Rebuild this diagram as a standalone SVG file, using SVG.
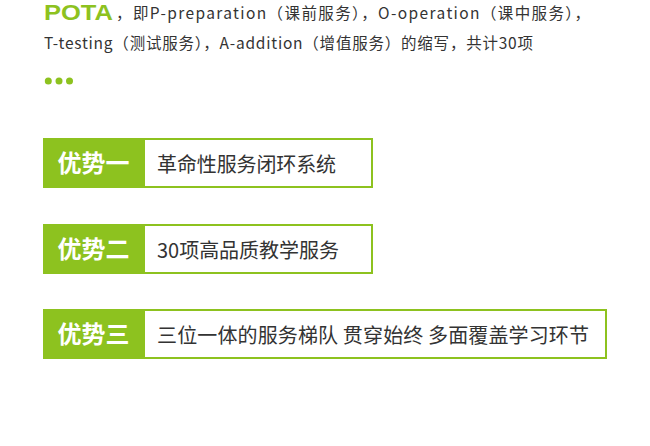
<svg xmlns="http://www.w3.org/2000/svg" width="650" height="446" viewBox="0 0 650 446">
<style>
.t{font-family:"Noto Sans CJK SC","Noto Sans",sans-serif;fill:#333333}
.h{font-size:15.5px}
.lab{font-family:"Noto Sans CJK SC","Noto Sans",sans-serif;font-size:24px;font-weight:bold;fill:#ffffff}
.body{font-size:20px}
.frame{fill:#ffffff;stroke:#8dc21f;stroke-width:2}
.tag{fill:#8dc21f}
.dot{fill:#8dc21f}
</style>
<rect x="0" y="0" width="650" height="446" fill="#ffffff"/>
<g id="header">
<text x="44" y="20" font-family="Liberation Sans, Arial, sans-serif" font-size="22" font-weight="bold" fill="#8dc21f" textLength="69" lengthAdjust="spacingAndGlyphs">POTA</text>
<text class="t h" x="116" y="19" textLength="474" lengthAdjust="spacing">，即P-preparation（课前服务），O-operation（课中服务），</text>
<text class="t h" x="44" y="49" textLength="489" lengthAdjust="spacing">T-testing（测试服务），A-addition（增值服务）的缩写，共计30项</text>
<circle class="dot" cx="48.3" cy="81" r="3.5"/>
<circle class="dot" cx="59" cy="81" r="3.5"/>
<circle class="dot" cx="69.5" cy="81" r="3.5"/>
</g>
<g id="connectors"></g>
<g id="advantage1">
<rect class="frame" x="44" y="139" width="328" height="48"/>
<rect class="tag" x="43" y="138" width="102" height="50"/>
<text class="lab" x="93.5" y="172" text-anchor="middle">优势一</text>
<text class="t body" x="157" y="171.5" textLength="179" lengthAdjust="spacing">革命性服务闭环系统</text>
</g>
<g id="advantage2">
<rect class="frame" x="44" y="225" width="328" height="48"/>
<rect class="tag" x="43" y="224" width="102" height="50"/>
<text class="lab" x="93.5" y="258" text-anchor="middle">优势二</text>
<text class="t body" x="157" y="257.5" textLength="182" lengthAdjust="spacing">30项高品质教学服务</text>
</g>
<g id="advantage3">
<rect class="frame" x="44" y="310" width="562" height="48"/>
<rect class="tag" x="43" y="309" width="102" height="50"/>
<text class="lab" x="93.5" y="343" text-anchor="middle">优势三</text>
<text class="t body" x="157" y="342.5" textLength="432" lengthAdjust="spacing">三位一体的服务梯队 贯穿始终 多面覆盖学习环节</text>
</g>
</svg>
